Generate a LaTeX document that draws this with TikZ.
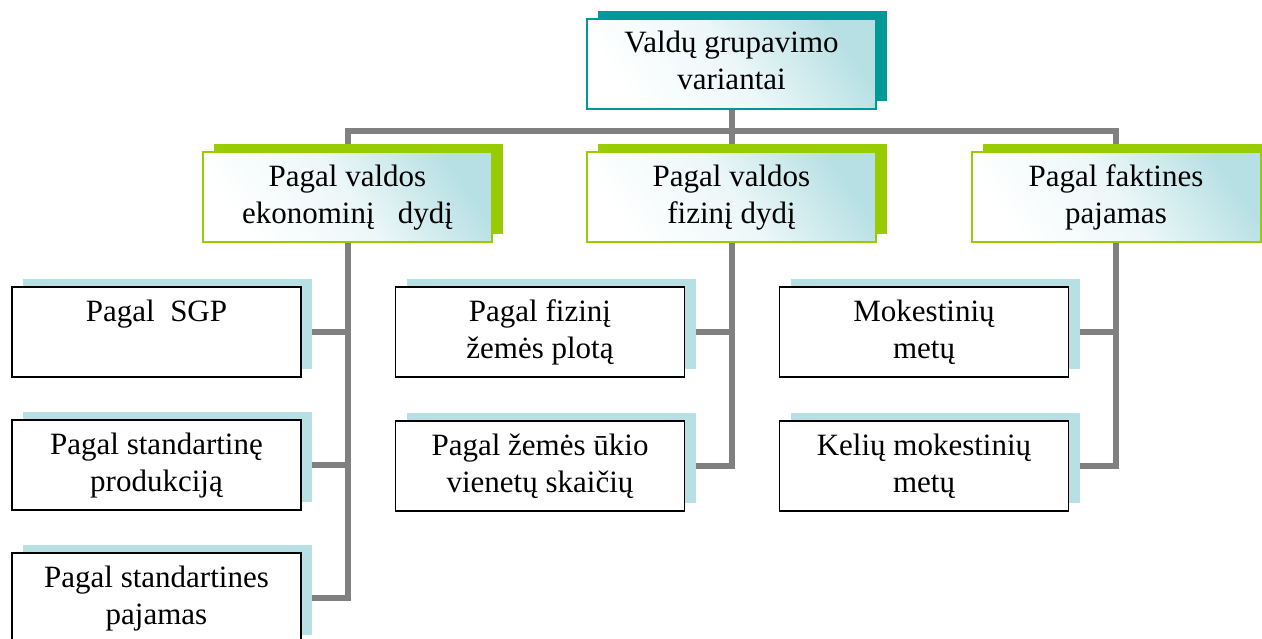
\documentclass[tikz,border=0pt]{standalone}
\usepackage{fontspec}
\setmainfont{Liberation Serif}
\usetikzlibrary{shadows,backgrounds}
\definecolor{tealc}{RGB}{0,153,153}
\definecolor{greenc}{RGB}{153,204,0}
\definecolor{paleblue}{RGB}{183,224,228}
\definecolor{conngray}{RGB}{128,128,128}
\newcommand\Ltop{\rule{0pt}{31pt}}
\newcommand\Lbot{\rule[-16pt]{0pt}{16pt}}
\tikzset{
  box/.style={rectangle, minimum width=289pt, minimum height=90pt, inner sep=0pt,
    align=center, font=\fontsize{31}{37}\selectfont},
  gradfill/.style={top color=paleblue, bottom color=white, middle color=white!75!paleblue, shading angle=-55},
  topbox/.style={box, draw=tealc, line width=2pt, gradfill,
    general shadow={fill=tealc, shadow xshift=11pt, shadow yshift=8pt}},
  midbox/.style={box, draw=greenc, line width=2pt, gradfill,
    general shadow={fill=greenc, shadow xshift=11pt, shadow yshift=8pt}},
  leafbox/.style={box, draw=black, line width=1.5pt, fill=white,
    general shadow={fill=paleblue, shadow xshift=11pt, shadow yshift=8pt}},
  conn/.style={draw=conngray, line width=6pt}
}
\begin{document}
\begin{tikzpicture}[x=1pt,y=-1pt]
\useasboundingbox (0,0) rectangle (1262,639);
\node[topbox] (top) at (731.5,64) {\Ltop Valdų grupavimo\\variantai\Lbot};
\node[midbox] (l2a) at (347.5,197.5) {\Ltop Pagal valdos\\ekonominį\ \ \ dydį\Lbot};
\node[midbox] (l2b) at (731.5,197.5) {\Ltop Pagal valdos\\fizinį dydį\Lbot};
\node[midbox] (l2c) at (1116,197.5) {\Ltop Pagal faktines\\pajamas\Lbot};
\node[leafbox] (a1) at (156.5,332) {\Ltop Pagal\ \ SGP\\\Lbot};
\node[leafbox] (a2) at (156.5,465) {\Ltop Pagal standartinę\\produkciją\Lbot};
\node[leafbox] (a3) at (156.5,598) {\Ltop Pagal standartines\\pajamas\Lbot};
\node[leafbox] (b1) at (540,332) {\Ltop Pagal fizinį\\žemės plotą\Lbot};
\node[leafbox] (b2) at (540,466) {\Ltop Pagal žemės ūkio\\vienetų skaičių\Lbot};
\node[leafbox] (c1) at (924,332) {\Ltop Mokestinių\\metų\Lbot};
\node[leafbox] (c2) at (924,466) {\Ltop Kelių mokestinių\\metų\Lbot};
\coordinate (bus) at (731.5,131);
\begin{scope}[on background layer]
  \draw[conn] (top.south) -- (bus);
  \draw[conn] (l2a.north) |- (bus) -| (l2c.north);
  \draw[conn] (bus) -- (l2b.north);
  \draw[conn] (l2a.south) |- (a3.east);
  \draw[conn] (a1.east) -- (a1.east -| l2a.south);
  \draw[conn] (a2.east) -- (a2.east -| l2a.south);
  \draw[conn] (l2b.south) |- (b2.east);
  \draw[conn] (b1.east) -- (b1.east -| l2b.south);
  \draw[conn] (l2c.south) |- (c2.east);
  \draw[conn] (c1.east) -- (c1.east -| l2c.south);
\end{scope}
\end{tikzpicture}
\end{document}
